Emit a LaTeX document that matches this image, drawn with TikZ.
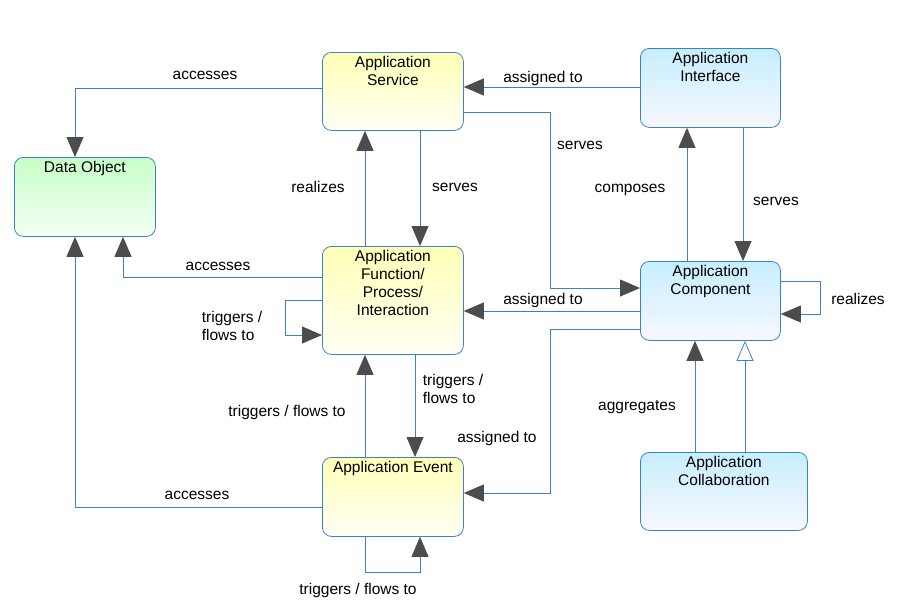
\documentclass[tikz,border=0pt]{standalone}
\usepackage{fontspec}
\setmainfont{Liberation Sans}
\usetikzlibrary{arrows.meta}
\definecolor{linec}{RGB}{60,130,200}
\tikzset{
  box/.style={draw=linec, rounded corners=9pt, line width=0.8pt, anchor=north west, inner sep=0pt},
  yel/.style={box, top color=yellow!28, bottom color=yellow!4},
  blu/.style={box, top color=blue!30!cyan!22, bottom color=blue!3},
  grn/.style={box, top color=green!22, bottom color=green!4},
  conn/.style={draw=linec, line width=0.8pt, -{Triangle[length=20pt,width=17pt,fill=black!70,color=black!70]}},
  hollow/.style={draw=linec, line width=0.8pt, -{Triangle[open,length=20pt,width=17pt,fill=white]}},
  lbl/.style={font=\fontsize{15.5}{18}\selectfont, align=left},
  ttl/.style={font=\fontsize{15.5}{18}\selectfont, align=center, anchor=north, yshift=-1pt}
}
\begin{document}
\begin{tikzpicture}[x=1pt, y=-1pt]
  \useasboundingbox (0,0) rectangle (897,614);
  % boxes
  \node[grn, minimum width=141pt, minimum height=79pt] (obj) at (14,157) {};
  \node[yel, minimum width=141pt, minimum height=78pt] (svc) at (322,52) {};
  \node[blu, minimum width=140pt, minimum height=79pt] (intf) at (640,48) {};
  \node[yel, minimum width=141pt, minimum height=108pt] (fun) at (322,246) {};
  \node[blu, minimum width=140pt, minimum height=79pt] (comp) at (640,261) {};
  \node[yel, minimum width=141pt, minimum height=79pt] (evt) at (322,457) {};
  \node[blu, minimum width=167pt, minimum height=78pt] (coll) at (640,452) {};
  \node[ttl] at (obj.north) {Data Object};
  \node[ttl] at (svc.north) {Application\\Service};
  \node[ttl] at (intf.north) {Application\\Interface};
  \node[ttl] at (fun.north) {Application\\Function/\\Process/\\Interaction};
  \node[ttl] at (comp.north) {Application\\Component};
  \node[ttl] at (evt.north) {Application Event};
  \node[ttl] at (coll.north) {Application\\Collaboration};

  % connectors
  \draw[conn] (svc.west |- 0,88) -| (obj.north -| 75,0);
  \draw[conn] (intf.west |- 0,87) -- (svc.east |- 0,87);
  \draw[conn] (svc.east |- 0,112) -| (550,288) -- (comp.west |- 0,288);
  \draw[conn] (svc.south -| 420,0) -- (fun.north -| 420,0);
  \draw[conn] (fun.north -| 365,0) -- (svc.south -| 365,0);
  \draw[conn] (comp.north -| 687,0) -- (intf.south -| 687,0);
  \draw[conn] (intf.south -| 743,0) -- (comp.north -| 743,0);
  \draw[conn] (fun.west |- 0,277) -| (obj.south -| 123,0);
  \draw[conn] (fun.west |- 0,300) -| (285,335) -- (fun.west |- 0,335);
  \draw[conn] (comp.west |- 0,311) -- (fun.east |- 0,311);
  \draw[conn] (comp.east |- 0,281) -| (820,314) -- (comp.east |- 0,314);
  \draw[conn] (evt.north -| 365,0) -- (fun.south -| 365,0);
  \draw[conn] (fun.south -| 415,0) -- (evt.north -| 415,0);
  \draw[conn] (comp.west |- 0,329) -| (550,493) -- (evt.east |- 0,493);
  \draw[conn] (coll.north -| 695,0) -- (comp.south -| 695,0);
  \draw[hollow] (coll.north -| 745,0) -- (comp.south -| 745,0);
  \draw[conn] (evt.west |- 0,507) -| (obj.south -| 75,0);
  \draw[conn] (evt.south -| 365,0) -- (365,572) -| (evt.south -| 420,0);

  % labels
  \node[lbl] at (205,75) {accesses};
  \node[lbl] at (543,78) {assigned to};
  \node[lbl] at (580,145) {serves};
  \node[lbl] at (455,187) {serves};
  \node[lbl] at (318,187) {realizes};
  \node[lbl] at (630,190) {composes};
  \node[lbl] at (776,201) {serves};
  \node[lbl] at (218,266) {accesses};
  \node[lbl] at (232,326) {triggers /\\flows to};
  \node[lbl] at (543,300) {assigned to};
  \node[lbl] at (858,299) {realizes};
  \node[lbl] at (287,412) {triggers / flows to};
  \node[lbl] at (453,389) {triggers /\\flows to};
  \node[lbl] at (497,438) {assigned to};
  \node[lbl] at (637,407) {aggregates};
  \node[lbl] at (197,495) {accesses};
  \node[lbl] at (358,590) {triggers / flows to};
\end{tikzpicture}
\end{document}
